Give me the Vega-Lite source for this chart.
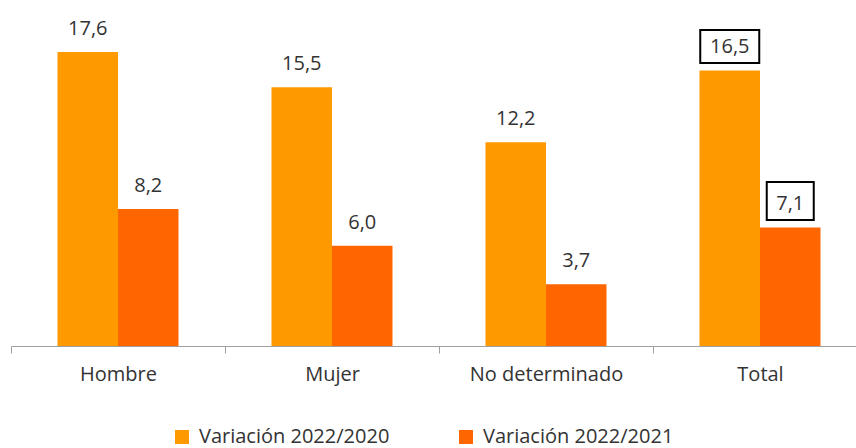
{
  "$schema": "https://vega.github.io/schema/vega-lite/v6.json",
  "autosize": {"type": "none"},
  "padding": {"left": 11, "top": 12, "right": 0, "bottom": 102},
  "width": 856,
  "height": 334,
  "config": {
    "view": {"stroke": null},
    "font": "Open Sans",
    "locale": {"number": {"decimal": ",", "thousands": ".", "grouping": [3], "currency": ["", " €"]}}
  },
  "data": {
    "values": [
      {"cat": "Hombre", "series": "Variación 2022/2020", "value": 17.6},
      {"cat": "Hombre", "series": "Variación 2022/2021", "value": 8.2},
      {"cat": "Mujer", "series": "Variación 2022/2020", "value": 15.5},
      {"cat": "Mujer", "series": "Variación 2022/2021", "value": 6.0},
      {"cat": "No determinado", "series": "Variación 2022/2020", "value": 12.2},
      {"cat": "No determinado", "series": "Variación 2022/2021", "value": 3.7},
      {"cat": "Total", "series": "Variación 2022/2020", "value": 16.5},
      {"cat": "Total", "series": "Variación 2022/2021", "value": 7.1}
    ]
  },
  "encoding": {
    "x": {
      "field": "cat", "type": "nominal", "sort": null,
      "scale": {"paddingInner": 0, "paddingOuter": 0},
      "axis": {
        "title": null, "labelAngle": 0, "grid": false,
        "domainColor": "#a0a0a0", "tickColor": "#a0a0a0", "tickSize": 7,
        "tickBand": "extent", "labelFontSize": 20, "labelFont": "Open Sans",
        "labelColor": "#333333", "labelPadding": 11
      }
    },
    "xOffset": {"field": "series", "type": "nominal", "sort": null, "scale": {"paddingInner": 0, "paddingOuter": 0.7686}},
    "y": {"field": "value", "type": "quantitative", "scale": {"domain": [0, 20]}, "axis": null}
  },
  "layer": [
    {
      "mark": {"type": "bar"},
      "encoding": {
        "color": {
          "field": "series", "type": "nominal", "sort": null,
          "scale": {"domain": ["Variación 2022/2020", "Variación 2022/2021"], "range": ["#FF9900", "#FF6600"]},
          "legend": {
            "title": null, "orient": "none", "direction": "horizontal",
            "legendX": 161, "legendY": 415, "symbolType": "square", "symbolSize": 196,
            "symbolStrokeWidth": 0, "labelFontSize": 20, "labelFont": "Open Sans",
            "labelColor": "#333333", "columnPadding": 66, "labelOffset": 7, "padding": 0,
            "labelLimit": 400
          }
        }
      }
    },
    {
      "transform": [{"filter": "datum.cat == 'Total' && datum.series == 'Variación 2022/2020'"}],
      "mark": {"type": "point", "shape": "M-1,-0.56H1V0.56H-1Z", "size": 3481, "filled": false, "stroke": "#000000", "strokeWidth": 2, "opacity": 1, "yOffset": -24}
    },
    {
      "transform": [{"filter": "datum.cat == 'Total' && datum.series == 'Variación 2022/2021'"}],
      "mark": {"type": "point", "shape": "M-1,-0.81H1V0.81H-1Z", "size": 2209, "filled": false, "stroke": "#000000", "strokeWidth": 2, "opacity": 1, "yOffset": -26.5}
    },
    {
      "mark": {"type": "text", "baseline": "alphabetic", "dy": -17, "fontSize": 20, "font": "Open Sans", "color": "#333333"},
      "encoding": {"text": {"field": "value", "type": "quantitative", "format": ".1f"}}
    }
  ]
}
